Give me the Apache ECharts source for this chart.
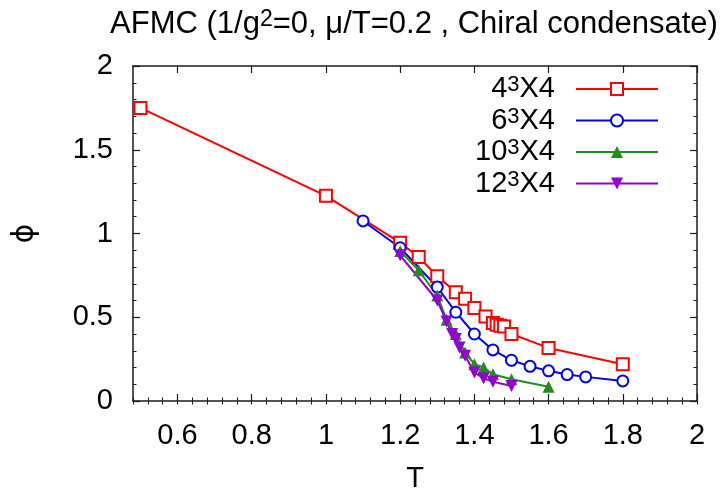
<!DOCTYPE html>
<html>
<head>
<meta charset="utf-8">
<script src="https://cdn.jsdelivr.net/npm/echarts@6/dist/echarts.min.js"></script>
<style>html,body{margin:0;padding:0;background:#fff}#c{width:722px;height:496px}</style>
</head>
<body>
<div id="c"></div>
<script>
// ---- data ----
const seriesNames = ['4³X4', '6³X4', '10³X4', '12³X4'];

const t4 = [0.5, 1.0, 1.2, 1.25, 1.3, 1.35, 1.375, 1.4, 1.43, 1.45, 1.46, 1.47, 1.48, 1.5, 1.6, 1.8];
const phi4 = [1.75, 1.225, 0.945, 0.86, 0.745, 0.65, 0.61, 0.555, 0.505, 0.465, 0.455, 0.45, 0.445, 0.40, 0.317, 0.22];

const t6 = [1.1, 1.2, 1.3, 1.35, 1.4, 1.45, 1.5, 1.55, 1.6, 1.65, 1.7, 1.8];
const phi6 = [1.075, 0.915, 0.68, 0.53, 0.40, 0.305, 0.243, 0.207, 0.18, 0.158, 0.144, 0.12];

const t10 = [1.2, 1.25, 1.3, 1.325, 1.35, 1.375, 1.4, 1.425, 1.45, 1.5, 1.6];
const phi10 = [0.895, 0.78, 0.63, 0.485, 0.40, 0.29, 0.22, 0.20, 0.16, 0.13, 0.085];

const t12 = [1.2, 1.3, 1.325, 1.34, 1.35, 1.36, 1.375, 1.4, 1.425, 1.45, 1.5];
const phi12 = [0.87, 0.60, 0.475, 0.40, 0.37, 0.32, 0.27, 0.17, 0.135, 0.115, 0.09];

const xMajorTicks = [0.6, 0.8, 1.0, 1.2, 1.4, 1.6, 1.8, 2.0];
const xRange = [0.48, 2.0];
const xMinorInterval = 0.04;
const yRange = [0, 2];
const yInterval = 0.5;

const titleRich = 'AFMC (1/g{s|2}=0, μ/T=0.2 , Chiral condensate)';
const xName = 'T';
const yName = 'ϕ';

// ---- chart ----
const FONT = 'Liberation Sans, Arial, Helvetica, sans-serif';
const AX = '#1a1a1a';
const FS = 29;
const pairs = (xs, ys) => xs.map((x, i) => [x, ys[i]]);
const legendRich = name => name.replace(/^(\d+)³(X4)$/, '{n|$1}{s|3}{e|$2}');

const baseX = {
  type: 'value', min: xRange[0], max: xRange[1], splitLine: {show: false},
  axisLine: {show: true, onZero: false, lineStyle: {color: AX, width: 1.5}}
};
const baseY = {
  type: 'value', min: yRange[0], max: yRange[1], interval: yInterval, splitLine: {show: false},
  axisLine: {show: true, onZero: false, lineStyle: {color: AX, width: 1.5}},
  axisTick: {inside: true, length: 7, lineStyle: {color: AX, width: 1.2}},
  minorTick: {show: true, splitNumber: 5, length: 3.5, lineStyle: {color: AX, width: 1}}
};

const chart = echarts.init(document.getElementById('c'), null, {renderer: 'canvas'});
chart.setOption({
  backgroundColor: '#fff',
  animation: false,
  textStyle: {fontFamily: FONT},
  grid: {left: 133, right: 25, top: 66, bottom: 95, containLabel: false, outerBoundsMode: 'none'},
  graphic: [{
    type: 'text', x: 414, y: 24,
    style: {
      text: titleRich, fill: '#000', fontSize: 31, fontFamily: FONT,
      textAlign: 'center', textVerticalAlign: 'middle',
      rich: {s: {fontSize: 23, lineHeight: 10, verticalAlign: 'top', fontFamily: FONT}}
    }
  }],
  xAxis: [
    Object.assign({}, baseX, {
      position: 'bottom',
      name: xName, nameLocation: 'middle', nameGap: 63,
      nameTextStyle: {fontSize: FS, color: '#000', fontFamily: FONT},
      axisTick: {inside: true, length: 7, customValues: xMajorTicks, lineStyle: {color: AX, width: 1.2}},
      axisLabel: {customValues: xMajorTicks, margin: 20, fontSize: FS, color: '#000', fontFamily: FONT,
        formatter: v => String(+v.toFixed(2))}
    }),
    Object.assign({}, baseX, {
      position: 'bottom', interval: xMinorInterval,
      axisLine: {show: false},
      axisTick: {inside: true, length: 3.5, lineStyle: {color: AX, width: 1}},
      axisLabel: {show: false}
    }),
    Object.assign({}, baseX, {
      position: 'top',
      axisTick: {inside: true, length: 7, customValues: xMajorTicks, lineStyle: {color: AX, width: 1.2}},
      axisLabel: {show: false}
    }),
    Object.assign({}, baseX, {
      position: 'top', interval: xMinorInterval,
      axisLine: {show: false},
      axisTick: {inside: true, length: 3.5, lineStyle: {color: AX, width: 1}},
      axisLabel: {show: false}
    })
  ],
  yAxis: [
    Object.assign({}, baseY, {
      position: 'left',
      name: yName, nameLocation: 'middle', nameGap: 93, nameRotate: 90,
      nameTextStyle: {fontSize: 30, color: '#000', fontFamily: 'DejaVu Sans, ' + FONT},
      axisLabel: {margin: 20, fontSize: FS, color: '#000', fontFamily: FONT,
        formatter: v => String(+v.toFixed(2))}
    }),
    Object.assign({}, baseY, {position: 'right', axisLabel: {show: false}})
  ],
  legend: {
    orient: 'vertical', align: 'right', right: 63, top: 74, padding: 0,
    itemWidth: 82, itemHeight: 15, itemGap: 1.5,
    formatter: legendRich,
    textStyle: {
      fontSize: FS, color: '#000', fontFamily: FONT, lineHeight: 30,
      rich: {
        n: {fontSize: FS, lineHeight: 30, fontFamily: FONT},
        s: {fontSize: 22, lineHeight: 9, verticalAlign: 'top', fontFamily: FONT},
        e: {fontSize: FS, lineHeight: 30, fontFamily: FONT, padding: [0, 16, 0, 0]}
      }
    },
    data: seriesNames
  },
  series: [
    {name: seriesNames[0], type: 'line', data: pairs(t4, phi4), symbol: 'emptyRect', symbolSize: 12,
      itemStyle: {color: '#ff0000', borderWidth: 2}, lineStyle: {color: '#ff0000', width: 2}},
    {name: seriesNames[1], type: 'line', data: pairs(t6, phi6), symbol: 'emptyCircle', symbolSize: 11,
      itemStyle: {color: '#0000ff', borderWidth: 2}, lineStyle: {color: '#0000ff', width: 2}},
    {name: seriesNames[2], type: 'line', data: pairs(t10, phi10), symbol: 'triangle', symbolSize: 12,
      itemStyle: {color: '#228b22'}, lineStyle: {color: '#228b22', width: 2}},
    {name: seriesNames[3], type: 'line', data: pairs(t12, phi12), symbol: 'triangle', symbolSize: 12, symbolRotate: 180,
      itemStyle: {color: '#9400d3'}, lineStyle: {color: '#9400d3', width: 2}}
  ]
});
</script>
</body>
</html>
